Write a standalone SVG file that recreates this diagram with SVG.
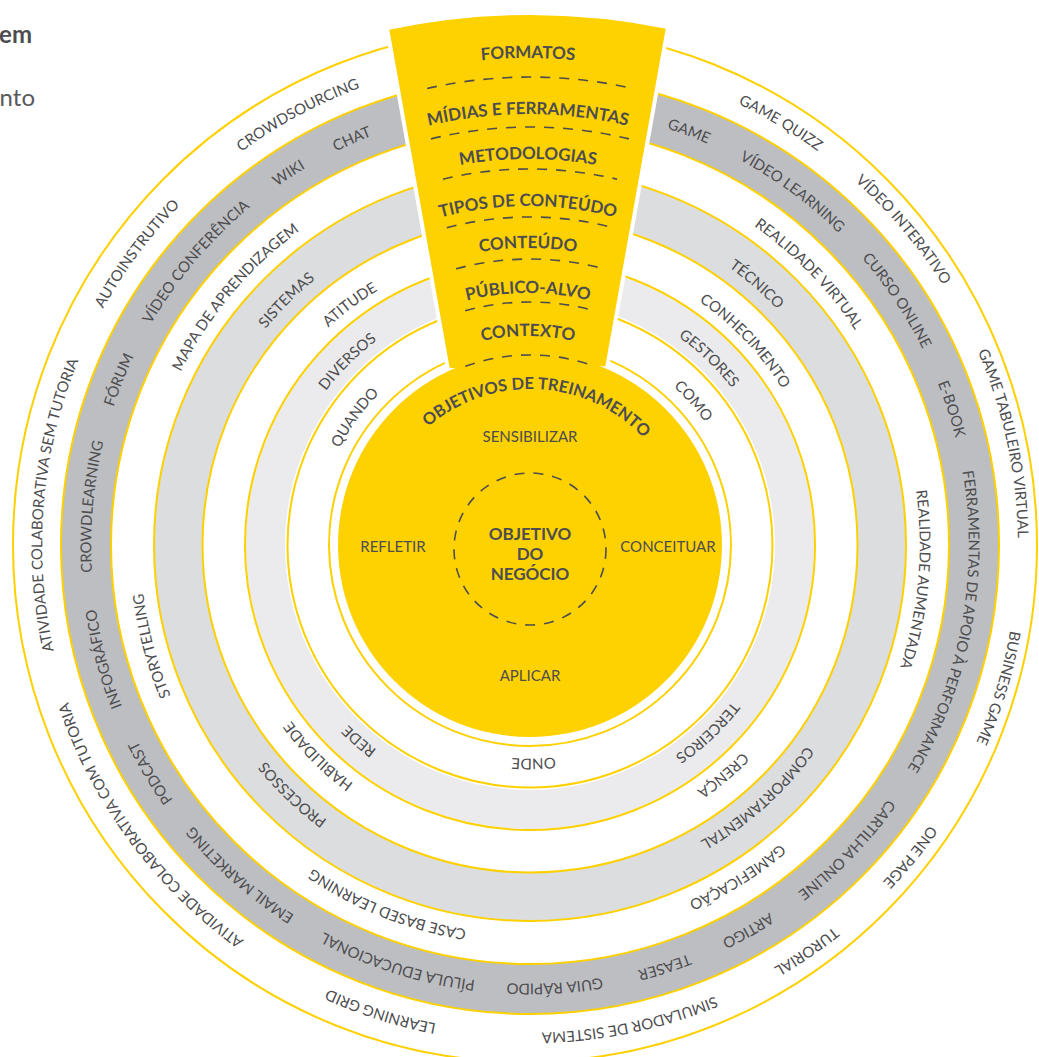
<svg xmlns="http://www.w3.org/2000/svg" width="1039" height="1057" viewBox="0 0 1039 1057">
<style>
.lbl{font-family:Lato,"Noto Sans",sans-serif;font-size:15px;fill:#4d4d4f;text-anchor:middle;}
.ttl{font-family:Lato,"Noto Sans",sans-serif;font-size:17px;font-weight:700;fill:#4d4d4f;text-anchor:middle;}
.yl{fill:none;stroke:#fdd000;stroke-width:2;}
.dash{fill:none;stroke:#4d4d4f;stroke-width:1.6;stroke-dasharray:10 9;}
.band{fill:none;}
</style>
<defs>
<path id="pA" d="M530,331.4 A213.6,213.6 0 1 1 530,758.6 A213.6,213.6 0 1 1 530,331.4"/>
<path id="pB" d="M530,289.4 A255.6,255.6 0 1 1 530,800.6 A255.6,255.6 0 1 1 530,289.4"/>
<path id="pC" d="M530,248.4 A296.6,296.6 0 1 1 530,841.6 A296.6,296.6 0 1 1 530,248.4"/>
<path id="pD" d="M530,203.4 A341.6,341.6 0 1 1 530,886.6 A341.6,341.6 0 1 1 530,203.4"/>
<path id="pE" d="M530,155.4 A389.6,389.6 0 1 1 530,934.6 A389.6,389.6 0 1 1 530,155.4"/>
<path id="pF" d="M530,106.4 A438.6,438.6 0 1 1 530,983.6 A438.6,438.6 0 1 1 530,106.4"/>
<path id="pG" d="M530,57.4 A487.6,487.6 0 1 1 530,1032.6 A487.6,487.6 0 1 1 530,57.4"/>
<path id="w1" d="M41,545 A487,487 0 0 1 1015,545"/>
<path id="w2" d="M97,545 A431,431 0 0 1 959,545"/>
<path id="w3" d="M142,545 A386,386 0 0 1 914,545"/>
<path id="w4" d="M189,545 A339,339 0 0 1 867,545"/>
<path id="w5" d="M231,545 A297,297 0 0 1 825,545"/>
<path id="w6" d="M276,545 A252,252 0 0 1 780,545"/>
<path id="w7" d="M319,545 A209,209 0 0 1 737,545"/>
<path id="w8" d="M374,545 A156,156 0 0 1 686,545"/>
</defs>

<rect width="1039" height="1057" fill="#ffffff"/>

<g id="header-fragments">
<text x="32" y="43" style="font-family:Lato,'Noto Sans',sans-serif;font-size:24px;font-weight:700;fill:#4d4d4f;text-anchor:end">em</text>
<text x="35" y="106" style="font-family:Lato,'Noto Sans',sans-serif;font-size:24px;fill:#58595b;text-anchor:end">nto</text>
</g>

<g id="ring-formatos">
<ellipse class="yl" cx="525" cy="545" rx="512" ry="517"/>
</g>
<g id="ring-midias">
<circle class="band" cx="530" cy="545" r="444" stroke="#bdbec1" stroke-width="50"/>
<circle class="yl" cx="530" cy="545" r="469"/>
<circle class="yl" cx="530" cy="545" r="419"/>
</g>
<g id="ring-tipos">
<circle class="band" cx="530" cy="545" r="351.75" stroke="#dcdddf" stroke-width="48.5"/>
<circle class="yl" cx="530" cy="545" r="376"/>
<circle class="yl" cx="530" cy="545" r="327.5"/>
</g>
<g id="ring-publico">
<circle class="band" cx="530" cy="545" r="264.5" stroke="#ebebed" stroke-width="39"/>
<circle class="yl" cx="530" cy="545" r="285"/>
<circle class="yl" cx="530" cy="545" r="242.5"/>
</g>
<g id="ring-contexto">
<circle class="yl" cx="530" cy="545" r="201"/>
</g>

<g id="wedge">
<path d="M387,28 A690,690 0 0 1 668,27 L607,368 L448,370 Z" fill="#fed100" stroke="#ffffff" stroke-width="4" stroke-linejoin="miter"/>
</g>

<g id="core">
<circle cx="530" cy="545" r="192" fill="#fed100"/>
<circle class="dash" cx="530" cy="549" r="76"/>
<text class="ttl" x="530" y="539.5">OBJETIVO</text>
<text class="ttl" x="530" y="559.5">DO</text>
<text class="ttl" x="530" y="579.5">NEGÓCIO</text>
<text class="lbl" x="530" y="441.5">SENSIBILIZAR</text>
<text class="lbl" x="393" y="551.5">REFLETIR</text>
<text class="lbl" x="668" y="551.5">CONCEITUAR</text>
<text class="lbl" x="530" y="680.5">APLICAR</text>
</g>

<g id="separators">
<path class="dash" d="M427.1,88.5 A468,468 0 0 1 632.9,88.5"/>
<path class="dash" d="M431,138.9 A418,418 0 0 1 629,138.9"/>
<path class="dash" d="M442.9,179.2 A376,376 0 0 1 617.1,179.2"/>
<path class="dash" d="M446.8,227.7 A328,328 0 0 1 613.2,227.7"/>
<path class="dash" d="M456,268.8 A286,286 0 0 1 604,268.8"/>
<path class="dash" d="M465.1,310.8 A243,243 0 0 1 594.9,310.8"/>
<path class="dash" d="M465.3,366.3 A190,190 0 0 1 594.7,366.3"/>
</g>

<g id="wedge-titles">
<text class="ttl"><textPath href="#w1" startOffset="50%">FORMATOS</textPath></text>
<text class="ttl"><textPath href="#w2" startOffset="50%">MÍDIAS E FERRAMENTAS</textPath></text>
<text class="ttl"><textPath href="#w3" startOffset="50%">METODOLOGIAS</textPath></text>
<text class="ttl"><textPath href="#w4" startOffset="50%">TIPOS DE CONTEÚDO</textPath></text>
<text class="ttl"><textPath href="#w5" startOffset="50%">CONTEÚDO</textPath></text>
<text class="ttl"><textPath href="#w6" startOffset="50%">PÚBLICO-ALVO</textPath></text>
<text class="ttl"><textPath href="#w7" startOffset="50%">CONTEXTO</textPath></text>
<text class="ttl" style="font-size:16.5px"><textPath href="#w8" startOffset="253">OBJETIVOS DE TREINAMENTO</textPath></text>
</g>

<g id="labels-contexto">
<text class="lbl"><textPath href="#pA" startOffset="1140.8">QUANDO</textPath></text>
<text class="lbl"><textPath href="#pA" startOffset="181.2">COMO</textPath></text>
<text class="lbl"><textPath href="#pA" startOffset="667.3">ONDE</textPath></text>
</g>
<g id="labels-publico">
<text class="lbl"><textPath href="#pB" startOffset="1405.2">DIVERSOS</textPath></text>
<text class="lbl"><textPath href="#pB" startOffset="195.4">GESTORES</textPath></text>
<text class="lbl"><textPath href="#pB" startOffset="609">TERCEIROS</textPath></text>
<text class="lbl"><textPath href="#pB" startOffset="985.9">REDE</textPath></text>
</g>
<g id="labels-conteudo">
<text class="lbl"><textPath href="#pC" startOffset="1672.1">ATITUDE</textPath></text>
<text class="lbl"><textPath href="#pC" startOffset="240.7">CONHECIMENTO</textPath></text>
<text class="lbl"><textPath href="#pC" startOffset="724.7">CRENÇA</textPath></text>
<text class="lbl"><textPath href="#pC" startOffset="1164.8">HABILIDADE</textPath></text>
</g>
<g id="labels-tipos">
<text class="lbl"><textPath href="#pD" startOffset="1878.1">SISTEMAS</textPath></text>
<text class="lbl"><textPath href="#pD" startOffset="244.4">TÉCNICO</textPath></text>
<text class="lbl"><textPath href="#pD" startOffset="822.8">COMPORTAMENTAL</textPath></text>
<text class="lbl"><textPath href="#pD" startOffset="1332.5">PROCESSOS</textPath></text>
</g>
<g id="labels-metodologias">
<text class="lbl"><textPath href="#pE" startOffset="2107.9">MAPA DE APRENDIZAGEM</textPath></text>
<text class="lbl"><textPath href="#pE" startOffset="311.4">REALIDADE VIRTUAL</textPath></text>
<text class="lbl"><textPath href="#pE" startOffset="646.7">REALIDADE AUMENTADA</textPath></text>
<text class="lbl"><textPath href="#pE" startOffset="1006.4">GAMEFICAÇÃO</textPath></text>
<text class="lbl"><textPath href="#pE" startOffset="1370.8">CASE BASED LEARNING</textPath></text>
<text class="lbl"><textPath href="#pE" startOffset="1734">STORYTELLING</textPath></text>
</g>
<g id="labels-midias">
<text class="lbl"><textPath href="#pF" startOffset="160.8">GAME</textPath></text>
<text class="lbl"><textPath href="#pF" startOffset="280.2">VÍDEO LEARNING</textPath></text>
<text class="lbl"><textPath href="#pF" startOffset="431">CURSO ONLINE</textPath></text>
<text class="lbl"><textPath href="#pF" startOffset="551.9">E-BOOK</textPath></text>
<text class="lbl"><textPath href="#pF" startOffset="769.3">FERRAMENTAS DE APOIO À PERFORMANCE</textPath></text>
<text class="lbl"><textPath href="#pF" startOffset="1025">CARTILHA ONLINE</textPath></text>
<text class="lbl"><textPath href="#pF" startOffset="1152.1">ARTIGO</textPath></text>
<text class="lbl"><textPath href="#pF" startOffset="1242.4">TEASER</textPath></text>
<text class="lbl"><textPath href="#pF" startOffset="1353.4">GUIA RÁPIDO</textPath></text>
<text class="lbl"><textPath href="#pF" startOffset="1512.6">PÍLULA EDUCACIONAL</textPath></text>
<text class="lbl"><textPath href="#pF" startOffset="1694.1">EMAIL MARKETING</textPath></text>
<text class="lbl"><textPath href="#pF" startOffset="1829.5">PODCAST</textPath></text>
<text class="lbl"><textPath href="#pF" startOffset="1952">INFOGRÁFICO</textPath></text>
<text class="lbl"><textPath href="#pF" startOffset="2105.1">CROWDLEARNING</textPath></text>
<text class="lbl"><textPath href="#pF" startOffset="2234.5">FÓRUM</textPath></text>
<text class="lbl"><textPath href="#pF" startOffset="2375.3">VÍDEO CONFERÊNCIA</textPath></text>
<text class="lbl"><textPath href="#pF" startOffset="2503.2">WIKI</textPath></text>
<text class="lbl"><textPath href="#pF" startOffset="2574.4">CHAT</textPath></text>
</g>
<g id="labels-formatos">
<text class="lbl"><textPath href="#pG" startOffset="261.3">GAME QUIZZ</textPath></text>
<text class="lbl"><textPath href="#pG" startOffset="423.8">VÍDEO INTERATIVO</textPath></text>
<text class="lbl"><textPath href="#pG" startOffset="663">GAME TABULEIRO VIRTUAL</textPath></text>
<text class="lbl"><textPath href="#pG" startOffset="910.6">BUSINESS GAME</textPath></text>
<text class="lbl"><textPath href="#pG" startOffset="1101.2">ONE PAGE</textPath></text>
<text class="lbl"><textPath href="#pG" startOffset="1240.8">TURORIAL</textPath></text>
<text class="lbl"><textPath href="#pG" startOffset="1431.4">SIMULADOR DE SISTEMA</textPath></text>
<text class="lbl"><textPath href="#pG" startOffset="1683.3">LEARNING GRID</textPath></text>
<text class="lbl"><textPath href="#pG" startOffset="1988">ATIVIDADE COLABORATIVA COM TUTORIA</textPath></text>
<text class="lbl"><textPath href="#pG" startOffset="2339.5">ATIVIDADE COLABORATIVA SEM TUTORIA</textPath></text>
<text class="lbl"><textPath href="#pG" startOffset="2609.3">AUTOINSTRUTIVO</textPath></text>
<text class="lbl"><textPath href="#pG" startOffset="2822.9">CROWDSOURCING</textPath></text>
</g>
</svg>
